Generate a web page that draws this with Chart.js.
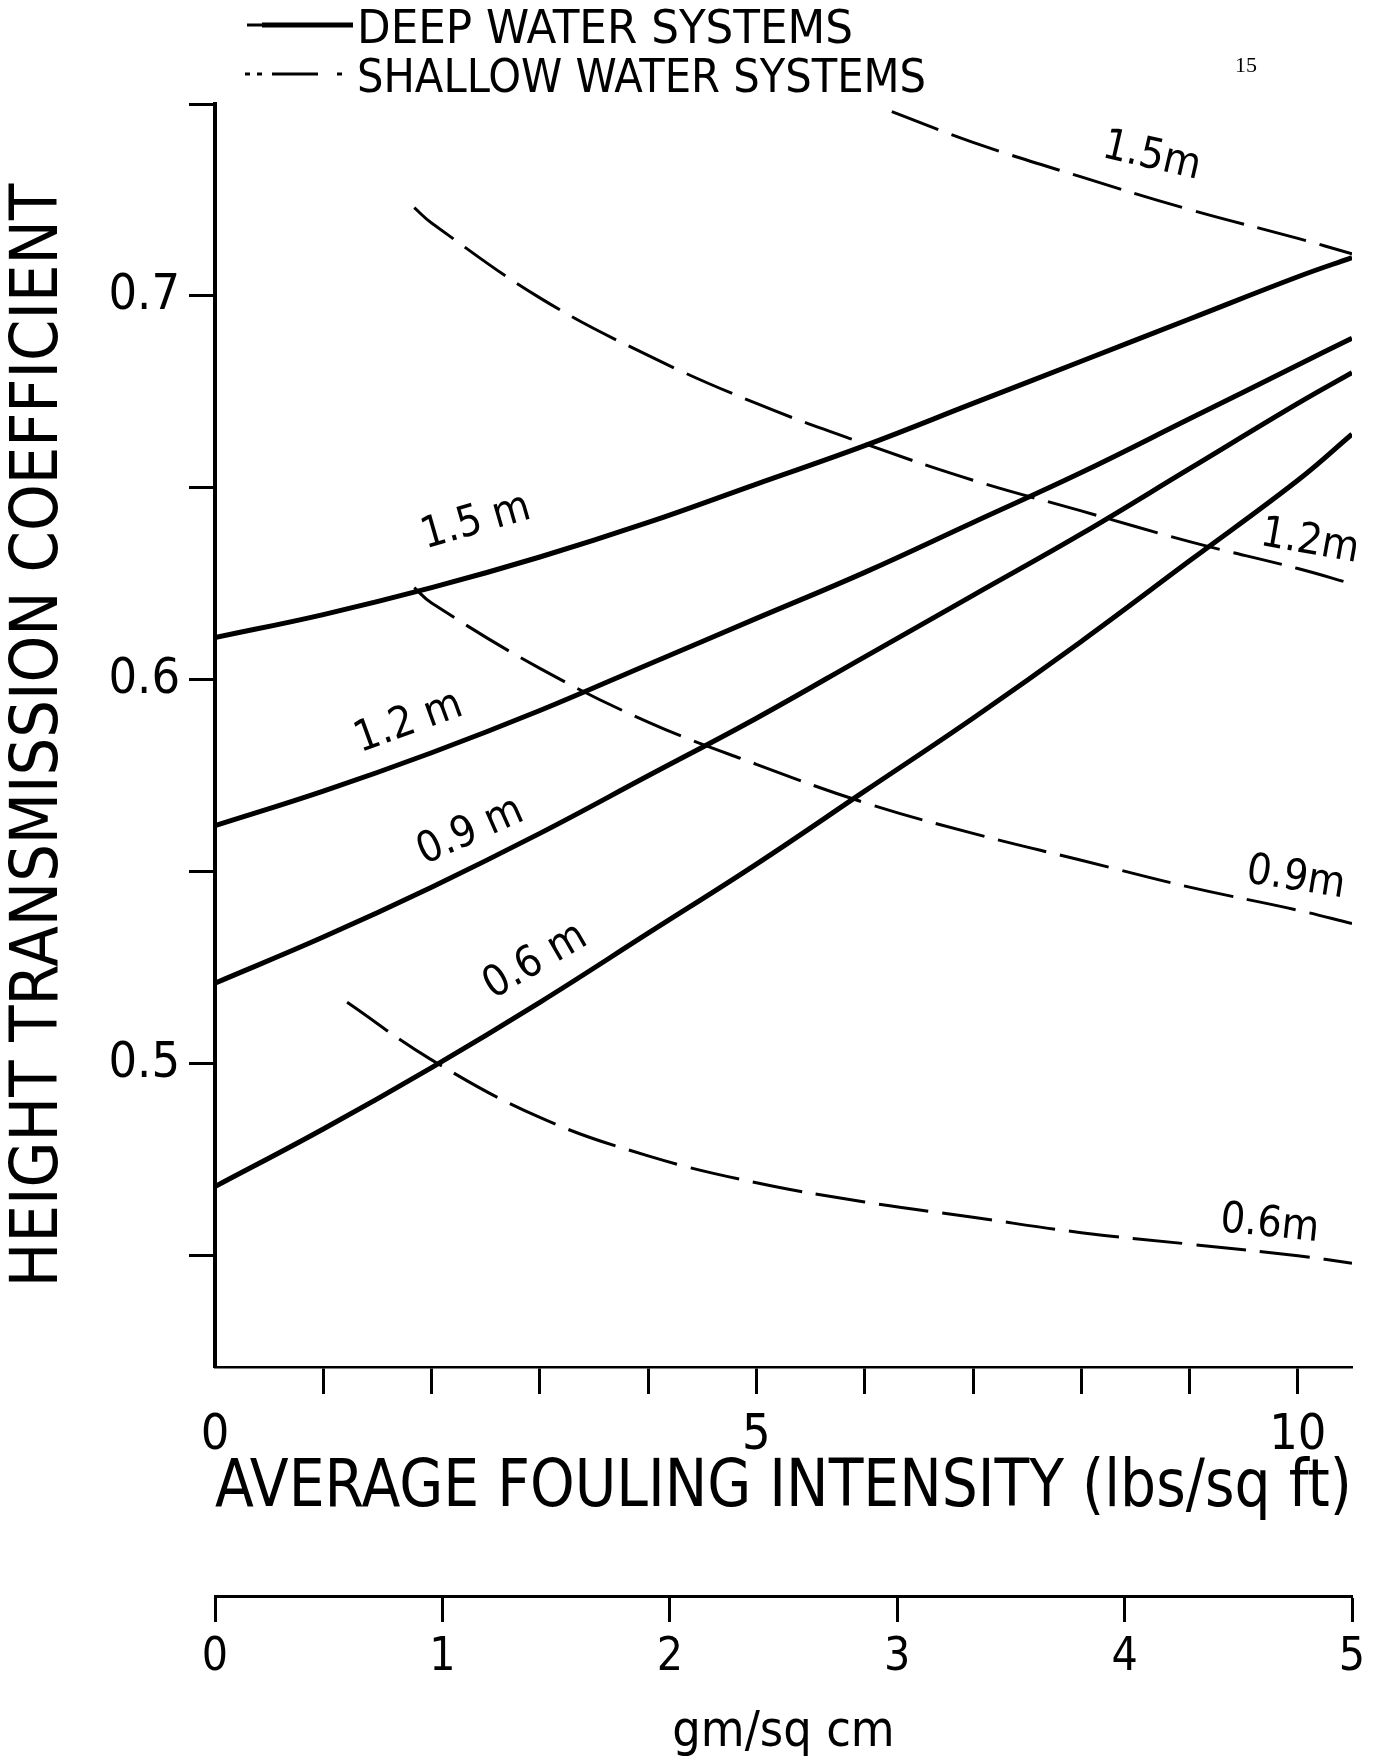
<!DOCTYPE html>
<html><head><meta charset="utf-8">
<script src="https://cdn.jsdelivr.net/npm/chart.js@4.4.1/dist/chart.umd.min.js"></script>
<style>
html,body{margin:0;padding:0;background:#fff;}
#wrap{width:1396px;height:1759px;position:relative;}
</style></head><body>
<div id="wrap"><canvas id="c" width="1396" height="1759"></canvas></div>
<script>
// ---------- DATA ----------
const xDeep = [0, 1, 2, 3, 4, 5, 6, 7, 8, 9, 10, 10.5];
const deep15 = [0.611, 0.617, 0.624, 0.632, 0.641, 0.651, 0.661, 0.672, 0.683, 0.694, 0.705, 0.710];
const deep12 = [0.562, 0.571, 0.581, 0.592, 0.604, 0.616, 0.628, 0.641, 0.654, 0.668, 0.682, 0.689];
const deep09 = [0.521, 0.533, 0.546, 0.560, 0.575, 0.590, 0.606, 0.622, 0.638, 0.655, 0.672, 0.680];
const deep06 = [0.468, 0.483, 0.499, 0.516, 0.534, 0.552, 0.571, 0.590, 0.610, 0.631, 0.652, 0.664];

const xShallow15 = [6.25, 7, 8, 9, 10, 10.5];
const shallow15 = [0.748, 0.740, 0.731, 0.7225, 0.715, 0.711];
const xShallow12 = [1.84, 2, 3, 4, 5, 6, 7, 8, 9, 10, 10.5];
const shallow12 = [0.723, 0.719, 0.6995, 0.6845, 0.672, 0.6615, 0.652, 0.644, 0.636, 0.629, 0.625];
const xShallow09 = [1.84, 2, 3, 4, 5, 6, 7, 8, 9, 10, 10.5];
const shallow09 = [0.624, 0.620, 0.603, 0.589, 0.578, 0.568, 0.560, 0.553, 0.546, 0.540, 0.5365];
const xShallow06 = [1.22, 2, 3, 4, 5, 6, 7, 8, 9, 10, 10.5];
const shallow06 = [0.516, 0.501, 0.486, 0.476, 0.469, 0.464, 0.460, 0.456, 0.453, 0.450, 0.448];

const yTickValues = [0.45, 0.5, 0.55, 0.6, 0.65, 0.7, 0.75];
const yTickLabels = ['', '0.5', '', '0.6', '', '0.7', ''];
const xTickValues = [0, 1, 2, 3, 4, 5, 6, 7, 8, 9, 10];
const xTickLabels = ['0', '', '', '', '', '5', '', '', '', '', '10'];
const x2TickValues = [0, 1, 2, 3, 4, 5];
const x2TickLabels = ['0', '1', '2', '3', '4', '5'];

const curveLabelText = ['1.5 m', '1.2 m', '0.9 m', '0.6 m', '1.5m', '1.2m', '0.9m', '0.6m'];
const legendText = ['DEEP WATER SYSTEMS', 'SHALLOW WATER SYSTEMS'];
const pageNumber = '15';

// ---------- LAYOUT (positions / styles) ----------
const labelLayout = [ // [x data, y data, angle deg]
  [2.41, 0.641, -16], [1.79, 0.5888, -20], [2.36, 0.5604, -24], [2.96, 0.5266, -30],
  [8.65, 0.7362, 13], [10.11, 0.6358, 10], [9.98, 0.5482, 9], [9.74, 0.4580, 6]
];

function hasFont(name) {
  const c = document.createElement('canvas').getContext('2d');
  c.font = '40px monospace';
  const w0 = c.measureText('HEIGHT TRANSMISSION wq').width;
  c.font = '40px "' + name + '", monospace';
  return c.measureText('HEIGHT TRANSMISSION wq').width !== w0;
}
let FONTNAME = 'DejaVu Sans';
if (hasFont('DejaVu Sans Condensed')) FONTNAME = 'DejaVu Sans Condensed';
else if (hasFont('Liberation Sans Narrow')) FONTNAME = 'Liberation Sans Narrow';
const FONT = '"' + FONTNAME + '", "DejaVu Sans", sans-serif';

Chart.defaults.font.family = FONT;
Chart.defaults.color = '#000';

function pts(xs, ys) { return xs.map((x, i) => ({ x: x, y: ys[i] })); }

const deepStyle = { borderColor: '#000', borderWidth: 5, pointRadius: 0, fill: false, tension: 0.4 };
const shallowStyle = { borderColor: '#000', borderWidth: 3, borderDash: [50, 14], pointRadius: 0, fill: false, tension: 0.4 };

const datasets = [
  Object.assign({ label: 'Deep 1.5 m', data: pts(xDeep, deep15) }, deepStyle),
  Object.assign({ label: 'Deep 1.2 m', data: pts(xDeep, deep12) }, deepStyle),
  Object.assign({ label: 'Deep 0.9 m', data: pts(xDeep, deep09) }, deepStyle),
  Object.assign({ label: 'Deep 0.6 m', data: pts(xDeep, deep06) }, deepStyle),
  Object.assign({ label: 'Shallow 1.5 m', data: pts(xShallow15, shallow15) }, shallowStyle),
  Object.assign({ label: 'Shallow 1.2 m', data: pts(xShallow12, shallow12) }, shallowStyle),
  Object.assign({ label: 'Shallow 0.9 m', data: pts(xShallow09, shallow09) }, shallowStyle),
  Object.assign({ label: 'Shallow 0.6 m', data: pts(xShallow06, shallow06) }, shallowStyle)
];

function fitText(ctx, text, x, y, targetW) {
  const w = ctx.measureText(text).width;
  ctx.save();
  ctx.translate(x, y);
  ctx.scale(targetW / w, 1);
  ctx.fillText(text, 0, 0);
  ctx.restore();
}

const bgPlugin = {
  id: 'bg',
  beforeDraw(chart) {
    const ctx = chart.ctx;
    ctx.save(); ctx.fillStyle = '#fff'; ctx.fillRect(0, 0, chart.width, chart.height); ctx.restore();
  }
};

const labelPlugin = {
  id: 'curveLabels',
  afterDatasetsDraw(chart) {
    const ctx = chart.ctx, xs = chart.scales.x, ys = chart.scales.y;
    ctx.save();
    ctx.fillStyle = '#000';
    ctx.font = '43px ' + FONT;
    ctx.textAlign = 'center';
    ctx.textBaseline = 'middle';
    curveLabelText.forEach((t, i) => {
      const L = labelLayout[i];
      ctx.save();
      ctx.translate(xs.getPixelForValue(L[0]), ys.getPixelForValue(L[1]));
      ctx.rotate(L[2] * Math.PI / 180);
      ctx.fillText(t, 0, 0);
      ctx.restore();
    });
    ctx.restore();
  }
};

const legendPlugin = {
  id: 'customLegend',
  afterDraw(chart) {
    const ctx = chart.ctx;
    ctx.save();
    ctx.strokeStyle = '#000'; ctx.fillStyle = '#000';
    ctx.lineCap = 'butt';
    // deep: solid
    ctx.lineWidth = 5;
    ctx.beginPath(); ctx.moveTo(262, 25); ctx.lineTo(353, 25); ctx.stroke();
    ctx.lineWidth = 3;
    ctx.beginPath(); ctx.moveTo(247, 25); ctx.lineTo(262, 25); ctx.stroke();
    // shallow: dot dot dash dot
    ctx.lineWidth = 3;
    [[245, 250], [257, 262], [272, 318], [337, 342]].forEach(s => {
      ctx.beginPath(); ctx.moveTo(s[0], 74); ctx.lineTo(s[1], 74); ctx.stroke();
    });
    ctx.font = '46px ' + FONT;
    ctx.textAlign = 'left';
    ctx.textBaseline = 'alphabetic';
    fitText(ctx, legendText[0], 357, 43, 496);
    fitText(ctx, legendText[1], 357, 92, 569);
    ctx.font = '22px "Liberation Serif", "DejaVu Serif", serif';
    ctx.textAlign = 'center';
    ctx.fillText(pageNumber, 1246, 72);
    ctx.restore();
  }
};

new Chart(document.getElementById('c'), {
  type: 'line',
  data: { datasets: datasets },
  options: {
    responsive: false,
    animation: false,
    layout: { padding: { left: 0, right: 44, top: 104, bottom: 0 } },
    plugins: { legend: { display: false }, tooltip: { enabled: false } },
    scales: {
      x: {
        type: 'linear', position: 'bottom', min: 0, max: 10.5, weight: 0,
        afterBuildTicks: s => { s.ticks = xTickValues.map(v => ({ value: v })); },
        afterFit: s => { s.height = 229; },
        ticks: { callback: (v, i) => xTickLabels[i], font: { size: 50 }, padding: 12, maxRotation: 0, autoSkip: false, color: '#000' },
        grid: { drawOnChartArea: false, drawTicks: true, tickLength: 27, tickWidth: 3,
                tickColor: c => (c.tick && c.tick.value === 0) ? 'rgba(0,0,0,0)' : '#000' },
        border: { display: true, color: '#000', width: 2.5 },
        title: { display: true, text: 'AVERAGE FOULING INTENSITY (lbs/sq ft)', color: '#000',
                 font: { size: 65, lineHeight: 1 }, padding: { top: 0, bottom: 74 } }
      },
      x2: {
        type: 'linear', position: 'bottom', min: 0, max: 5, weight: 1,
        afterBuildTicks: s => { s.ticks = x2TickValues.map(v => ({ value: v })); },
        afterFit: s => { s.height = 163; },
        ticks: { callback: (v, i) => x2TickLabels[i], font: { size: 46 }, padding: 8, maxRotation: 0, autoSkip: false, color: '#000' },
        grid: { drawOnChartArea: false, drawTicks: true, tickLength: 26, tickWidth: 3, tickColor: '#000' },
        border: { display: true, color: '#000', width: 3 },
        title: { display: true, text: 'gm/sq cm', color: '#000',
                 font: { size: 50, lineHeight: 1 }, padding: { top: 0, bottom: 1 } }
      },
      y: {
        type: 'linear', position: 'left', min: 0.421, max: 0.75,
        afterBuildTicks: s => { s.ticks = yTickValues.map(v => ({ value: v })); },
        afterFit: s => { s.width = 215; },
        ticks: { callback: (v, i) => yTickLabels[i], font: { size: 50 }, padding: 9, autoSkip: false, color: '#000' },
        grid: { drawOnChartArea: false, drawTicks: true, tickLength: 26, tickWidth: 3, tickColor: '#000' },
        border: { display: true, color: '#000', width: 4 },
        title: { display: true, text: 'HEIGHT TRANSMISSION COEFFICIENT', color: '#000',
                 font: { size: 66, lineHeight: 1 }, padding: { top: 7, bottom: 0 } }
      }
    }
  },
  plugins: [bgPlugin, labelPlugin, legendPlugin]
});
</script>
</body></html>
